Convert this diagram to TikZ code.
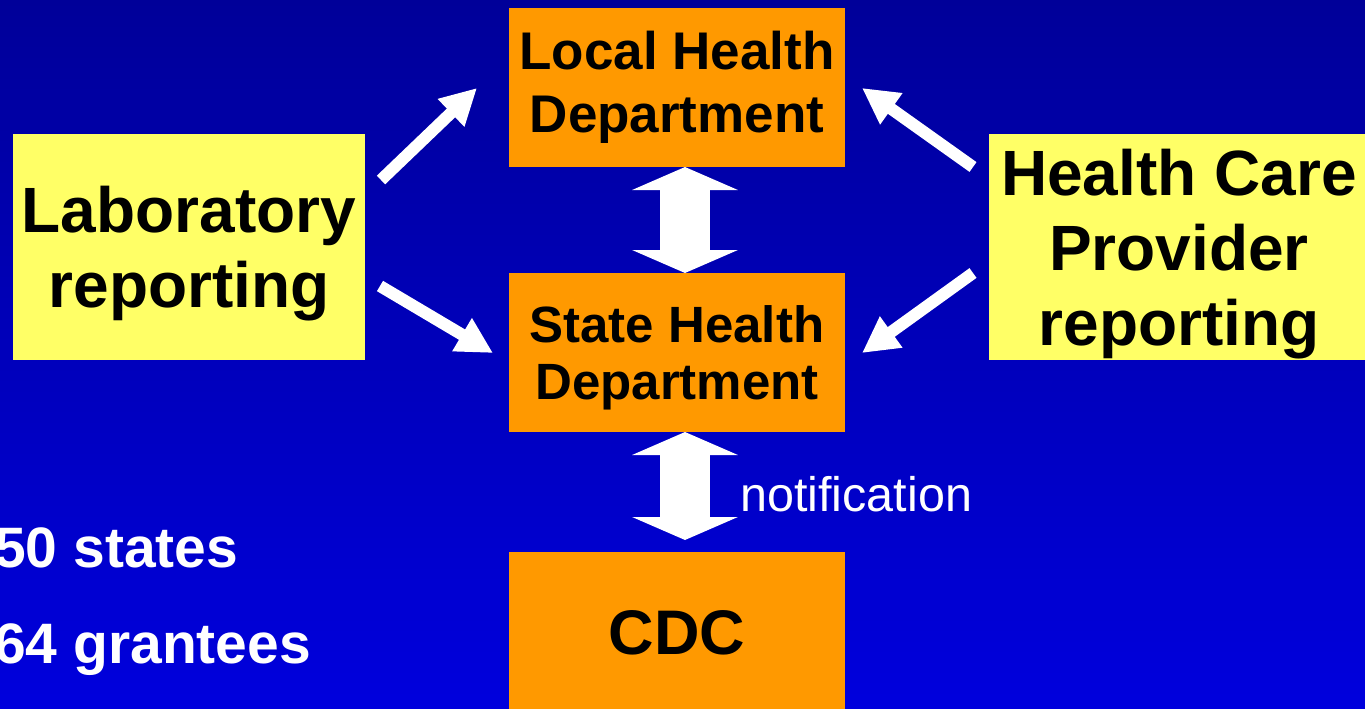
\documentclass[tikz,border=0pt]{standalone}
\usepackage{fontspec}
\setmainfont{Liberation Sans}
\usetikzlibrary{arrows.meta}

\definecolor{deptorange}{RGB}{255,153,0}
\definecolor{srcyellow}{RGB}{255,255,102}
\definecolor{skytop}{RGB}{0,0,153}
\definecolor{skybottom}{RGB}{0,0,221}

\begin{document}
\begin{tikzpicture}[x=1pt, y=-1pt]
    \tikzstyle{agency} = [rectangle, fill=deptorange, inner sep=0pt, outer sep=0pt, minimum width=336pt, align=center]
    \tikzstyle{source} = [rectangle, fill=srcyellow, inner sep=0pt, outer sep=0pt, minimum height=226pt, align=center, font=\fontsize{64}{75}\selectfont\bfseries]
    \tikzstyle{feed} = [white, line width=12pt, -{Triangle[length=36pt, width=36pt]}]
    \tikzstyle{link} = [white, line width=50pt, {Triangle[length=23pt, width=105pt]}-{Triangle[length=23pt, width=105pt]}]
    \tikzstyle{count} = [white, inner sep=0pt, anchor=base west, font=\fontsize{57}{60}\selectfont\bfseries]

    % blue backdrop
    \useasboundingbox (0,0) rectangle (1365,709);
    \shade [top color=skytop, bottom color=skybottom] (0,0) rectangle (1365,709);

    % reporting levels
    \node [agency, minimum height=159pt, font=\fontsize{53}{63}\selectfont\bfseries] (lhd) at (677,87.5) {Local Health\\Department};
    \node [agency, minimum height=159pt, text depth=-5pt, font=\fontsize{51}{57}\selectfont\bfseries] (shd) at (677,352.5) {State Health\\Department};
    \node [agency, minimum height=162pt, font=\fontsize{63}{70}\selectfont\bfseries] (cdc) at (677,633) {CDC};

    % sources of reports
    \node [source, minimum width=352pt, text depth=-6pt] (lab) at (189,247) {Laboratory\\reporting};
    \node [source, minimum width=380pt, text depth=-2pt] (hcp) at (1179,247) {Health Care\\Provider\\reporting};

    % arrow ends
    \coordinate (lab1) at (381,180);
    \coordinate (lab2) at (380,286);
    \coordinate (hcp1) at (973,167);
    \coordinate (hcp2) at (973,273);
    \coordinate (lhd1) at (477,88);
    \coordinate (shd1) at (493,353);
    \coordinate (lhd2) at (862,88);
    \coordinate (shd2) at (862,353);

    \draw [feed] (lab1) -- (lhd1);
    \draw [feed] (lab2) -- (shd1);
    \draw [feed] (hcp1) -- (lhd2);
    \draw [feed] (hcp2) -- (shd2);

    % two way links
    \draw [link] ([xshift=8pt]lhd.south) -- ([xshift=8pt]shd.north);
    \draw [link, shorten >=12pt] ([xshift=8pt]shd.south) -- ([xshift=8pt]cdc.north);
    \node [white, inner sep=0pt, anchor=west, font=\fontsize{48.5}{52}\selectfont] (note) at (740,494) {notification};

    % counts
    \node [count] (states) at (-6,567) {50 states};
    \node [count] (grantees) at (-6,663) {64 grantees};
\end{tikzpicture}
\end{document}
